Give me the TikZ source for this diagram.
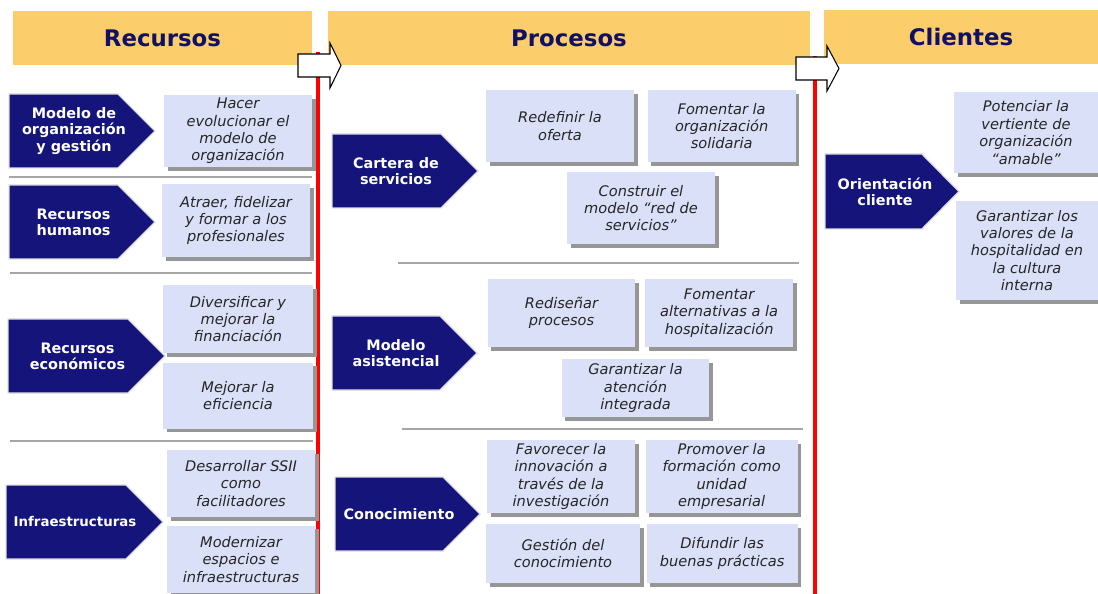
\documentclass[tikz,border=0pt]{standalone}
\usepackage{fontspec}
\setmainfont{DejaVu Sans}
\usepackage{xcolor}
\usepackage{tikz}
\usetikzlibrary{positioning,shadows}
\definecolor{naranja}{RGB}{252,205,107}
\definecolor{azuloscuro}{RGB}{20,20,122}
\definecolor{azulclaro}{RGB}{217,224,248}
\definecolor{titulo}{RGB}{16,16,100}
\definecolor{sombra}{RGB}{150,150,150}
\tikzset{
  cabecera/.style={fill=naranja,text=titulo,font=\bfseries\fontsize{13}{15}\selectfont,
    minimum height=1.08cm,inner sep=0pt},
  pilar/.style={fill=azuloscuro,draw=black!12,line width=0.8pt},
  rotulo/.style={text=white,align=center,inner sep=0pt,
    font=\bfseries\fontsize{8.2}{9.2}\selectfont},
  meta/.style={fill=azulclaro,align=center,text=black!85,inner sep=1pt,
    font=\itshape\fontsize{8.3}{9.9}\selectfont,minimum width=2.96cm,
    drop shadow={shadow xshift=2pt,shadow yshift=-2pt,fill=sombra,opacity=1}},
  separador/.style={draw=black!35,line width=1.1pt},
  eje/.style={draw=red,line width=2.3pt},
  flecha/.style={draw=black,fill=white,line width=0.6pt}
}

\begin{document}
\begin{tikzpicture}[x=0.02cm,y=-0.02cm]
  \useasboundingbox (0,0) rectangle (1098,594);
  % cabeceras
  \node[cabecera,minimum width=5.98cm] (recursos) at (162.5,38) {Recursos};
  \node[cabecera,minimum width=9.64cm] (procesos) at (569,38) {Procesos};
  \node[cabecera,minimum width=5.48cm] (clientes) at (961,37) {Clientes};

  % ejes rojos y flechas
  \draw[eje] (318,52) -- (318,594);
  \draw[eje] (815,56) -- (815,594);
  \draw[flecha] (298,54) -- (330,54) -- (330,43) -- (341,65.5) -- (330,88) -- (330,77) -- (298,77) -- cycle;
  \draw[flecha] (796,57) -- (827,57) -- (827,46) -- (839,68.5) -- (827,91) -- (827,80) -- (796,80) -- cycle;

  % separadores
  \draw[separador] (9,177) -- (312,177);
  \draw[separador] (10,273) -- (312,273);
  \draw[separador] (10,441) -- (313,441);
  \draw[separador] (398,263) -- (799,263);
  \draw[separador] (402,429) -- (803,429);

  % recursos
  \filldraw[pilar] (9,94) -- ++(109,0) -- ++(37,37) -- ++(-37,37) -- ++(-109,0) -- cycle;
  \filldraw[pilar] (9,185) -- ++(109,0) -- ++(37,37) -- ++(-37,37) -- ++(-109,0) -- cycle;
  \filldraw[pilar] (8,319) -- ++(120,0) -- ++(37,37) -- ++(-37,37) -- ++(-120,0) -- cycle;
  \filldraw[pilar] (6,485) -- ++(120,0) -- ++(37,37) -- ++(-37,37) -- ++(-120,0) -- cycle;
  \node[rotulo] (organizacion) at (74,131) {Modelo de\\organización\\y gestión};
  \node[rotulo] (humanos) at (73.5,222) {Recursos\\humanos};
  \node[rotulo] (economicos) at (77.5,356) {Recursos\\económicos};
  \node[rotulo,font=\bfseries\fontsize{7.6}{9.2}\selectfont] (infra) at (75,522) {Infraestructuras};

  \node[meta,minimum height=1.44cm] (evolucionar) at (238,131) {Hacer\\evolucionar el\\modelo de\\organización};
  \node[meta,minimum height=1.46cm] (atraer) at (236,220.5) {Atraer, fidelizar\\y formar a los\\profesionales};
  \node[meta,minimum width=3cm,minimum height=1.36cm] (financiacion) at (238,319) {Diversificar y\\mejorar la\\financiación};
  \node[meta,minimum width=3cm,minimum height=1.32cm,below=0.18cm of financiacion] (eficiencia) {Mejorar la\\eficiencia};
  \node[meta,minimum height=1.34cm] (ssii) at (241,483.5) {Desarrollar SSII\\como\\facilitadores};
  \node[meta,minimum height=1.34cm,below=0.16cm of ssii] (espacios) {Modernizar\\espacios e\\infraestructuras};

  % procesos
  \filldraw[pilar] (332,134) -- ++(109,0) -- ++(37,37) -- ++(-37,37) -- ++(-109,0) -- cycle;
  \filldraw[pilar] (332,316) -- ++(108,0) -- ++(37,37) -- ++(-37,37) -- ++(-108,0) -- cycle;
  \filldraw[pilar] (335,477) -- ++(108,0) -- ++(37,37) -- ++(-37,37) -- ++(-108,0) -- cycle;
  \node[rotulo] (cartera) at (396,171) {Cartera de\\servicios};
  \node[rotulo] (asistencial) at (396,353) {Modelo\\asistencial};
  \node[rotulo] (conocimiento) at (399,514) {Conocimiento};

  \node[meta,minimum height=1.44cm] (oferta) at (560,126) {Redefinir la\\oferta};
  \node[meta,minimum height=1.44cm,right=0.26cm of oferta] (solidaria) {Fomentar la\\organización\\solidaria};
  \node[meta,minimum height=1.44cm] (red) at (641,208) {Construir el\\modelo “red de\\servicios”};
  \node[meta,minimum height=1.36cm] (redisenar) at (561.5,313) {Rediseñar\\procesos};
  \node[meta,minimum height=1.36cm,right=0.18cm of redisenar] (alternativas) {Fomentar\\alternativas a la\\hospitalización};
  \node[meta,minimum height=1.16cm] (integrada) at (635.5,388) {Garantizar la\\atención\\integrada};
  \node[meta,minimum height=1.46cm] (innovacion) at (561,476.5) {Favorecer la\\innovación a\\través de la\\investigación};
  \node[meta,minimum width=3.04cm,minimum height=1.46cm,right=0.2cm of innovacion] (formacion) {Promover la\\formación como\\unidad\\empresarial};
  \node[meta,minimum width=3.08cm,minimum height=1.18cm] (gestion) at (563,553.5) {Gestión del\\conocimiento};
  \node[meta,minimum width=3.02cm,minimum height=1.18cm,right=0.12cm of gestion] (difundir) {Difundir las\\buenas prácticas};

  % clientes
  \filldraw[pilar] (825,154) -- ++(97,0) -- ++(37,37.5) -- ++(-37,37.5) -- ++(-97,0) -- cycle;
  \node[rotulo] (orientacion) at (885,191.5) {Orientación\\cliente};
  \node[meta,minimum width=2.88cm,minimum height=1.62cm] (amable) at (1026,132.5) {Potenciar la\\vertiente de\\organización\\“amable”};
  \node[meta,minimum width=2.84cm,minimum height=1.98cm] (valores) at (1027,250.5) {Garantizar los\\valores de la\\hospitalidad en\\la cultura\\interna};
\end{tikzpicture}
\end{document}
